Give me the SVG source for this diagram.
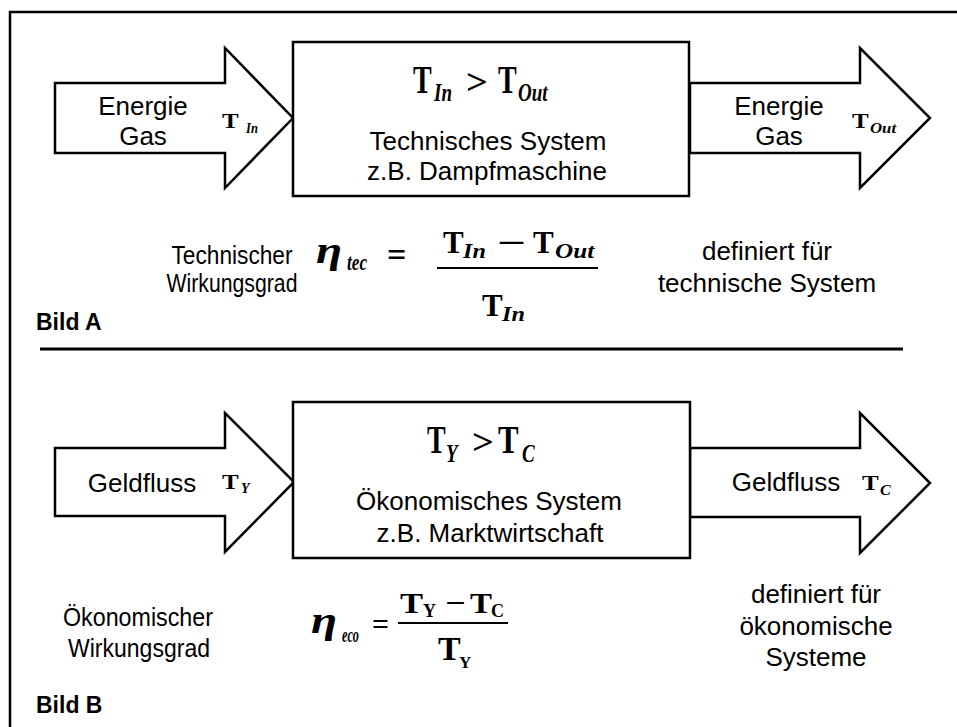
<svg xmlns="http://www.w3.org/2000/svg" width="957" height="727" viewBox="0 0 957 727">
<style>
.ln{fill:none;stroke:#000;stroke-width:2.5}
.sh{fill:#fff;stroke:#000;stroke-width:2.5;stroke-linejoin:miter}
.t{font-family:"Liberation Sans",Arial,sans-serif;font-size:26px;fill:#000;text-anchor:middle}
.bold{font-family:"Liberation Sans",Arial,sans-serif;font-size:23px;font-weight:bold;fill:#000}
.m{font-family:"Liberation Serif","Times New Roman",serif;font-weight:bold;fill:#000}
.mi{font-family:"Liberation Serif","Times New Roman",serif;font-weight:bold;font-style:italic;fill:#000}
</style>
<rect width="957" height="727" fill="#fff"/>
<rect class="ln" x="10" y="12" width="1000" height="1000"/>
<line x1="40" y1="349" x2="903" y2="349" stroke="#000" stroke-width="3"/>

<g id="connectors">
  <g id="arrow-a-in">
    <polygon class="sh" points="55,83 225,83 225,48 293,118 225,188 225,153 55,153"/>
    <text class="t" x="143" y="115">Energie</text>
    <text class="t" x="143" y="145">Gas</text>
    <text class="m" font-size="20" transform="translate(222,128) scale(1.25,1)">T</text>
    <text class="mi" font-size="14" transform="translate(246,133) scale(0.9,1)">In</text>
  </g>
  <g id="arrow-a-out">
    <polygon class="sh" points="690,83 860,83 860,48 930,118 860,188 860,153 690,153"/>
    <text class="t" x="779" y="115">Energie</text>
    <text class="t" x="779" y="145">Gas</text>
    <text class="m" font-size="20" transform="translate(852,128) scale(1.25,1)">T</text>
    <text class="mi" font-size="14" transform="translate(870,133) scale(1.2,1)">Out</text>
  </g>
  <g id="arrow-b-in">
    <polygon class="sh" points="55,448 225,448 225,413 294,482 225,552 225,516 55,516"/>
    <text class="t" x="142" y="492">Geldfluss</text>
    <text class="m" font-size="20" transform="translate(222,489) scale(1.25,1)">T</text>
    <text class="mi" font-size="14" x="241" y="493">Y</text>
  </g>
  <g id="arrow-b-out">
    <polygon class="sh" points="690,448 860,448 860,413 930,483 860,553 860,517 690,517"/>
    <text class="t" x="786" y="491">Geldfluss</text>
    <text class="m" font-size="20" transform="translate(862,490) scale(1.25,1)">T</text>
    <text class="mi" font-size="14" transform="translate(880,495) scale(1.15,1)">C</text>
  </g>
</g>

<g id="system-a">
  <rect class="sh" x="293" y="42" width="396" height="154"/>
  <text class="m" font-size="28" transform="translate(413,93) scale(1,1.4)">T</text>
  <text class="mi" font-size="19" transform="translate(434,101) scale(1,1.35)">In</text>
  <text class="m" font-size="32" transform="translate(466,94) scale(1.2,1.1)">&gt;</text>
  <text class="m" font-size="28" transform="translate(498,93) scale(1,1.4)">T</text>
  <text class="mi" font-size="19" transform="translate(518,101) scale(1,1.35)">Out</text>
  <text class="t" x="488" y="150">Technisches System</text>
  <text class="t" x="487" y="180">z.B. Dampfmaschine</text>
</g>

<g id="system-b">
  <rect class="sh" x="293" y="402" width="397" height="156"/>
  <text class="m" font-size="28" transform="translate(427,453) scale(1,1.4)">T</text>
  <text class="mi" font-size="19" transform="translate(446,462) scale(1,1.35)">Y</text>
  <text class="m" font-size="32" transform="translate(472,454) scale(1.2,1.1)">&gt;</text>
  <text class="m" font-size="28" transform="translate(498,453) scale(1.1,1.4)">T</text>
  <text class="mi" font-size="19" transform="translate(522,462) scale(1,1.35)">C</text>
  <text class="t" x="489" y="510">Ökonomisches System</text>
  <text class="t" x="490" y="542">z.B. Marktwirtschaft</text>
</g>

<g id="formula-a">
  <text class="t" font-size="27" x="232" y="264" textLength="121" lengthAdjust="spacingAndGlyphs">Technischer</text>
  <text class="t" font-size="27" x="232" y="292" textLength="131" lengthAdjust="spacingAndGlyphs">Wirkungsgrad</text>
  <text class="mi" font-size="38" transform="translate(316,263) scale(1.25,1)">η</text>
  <text class="mi" font-size="23" x="347" y="270" textLength="20" lengthAdjust="spacingAndGlyphs">tec</text>
  <text class="m" font-size="34" x="387" y="266">=</text>
  <text class="m" font-size="31" x="443" y="253">T</text>
  <text class="mi" font-size="21" transform="translate(463,258) scale(1.15,1)">In</text>
  <text class="m" font-size="31" transform="translate(497,253) scale(1.65,1)">−</text>
  <text class="m" font-size="31" x="533" y="253">T</text>
  <text class="mi" font-size="21" transform="translate(555,258) scale(1.2,1)">Out</text>
  <line x1="437" y1="268" x2="598" y2="268" stroke="#000" stroke-width="2"/>
  <text class="m" font-size="31" x="482" y="316">T</text>
  <text class="mi" font-size="21" transform="translate(502,321) scale(1.15,1)">In</text>
  <text class="t" x="767" y="260">definiert für</text>
  <text class="t" x="767" y="292">technische System</text>
  <text class="bold" x="36" y="330">Bild A</text>
</g>

<g id="formula-b">
  <text class="t" x="138" y="626" textLength="150" lengthAdjust="spacingAndGlyphs">Ökonomischer</text>
  <text class="t" x="139" y="657" textLength="142" lengthAdjust="spacingAndGlyphs">Wirkungsgrad</text>
  <text class="mi" font-size="38" transform="translate(311,633) scale(1.25,1)">η</text>
  <text class="mi" font-size="22" x="342" y="642" textLength="17" lengthAdjust="spacingAndGlyphs">eco</text>
  <text class="m" font-size="30" x="372" y="634">=</text>
  <text class="m" font-size="30" transform="translate(400,613) scale(1.15,1)">T</text>
  <text class="m" font-size="18" x="423" y="617">Y</text>
  <text class="m" font-size="30" transform="translate(445,613) scale(1.2,1)">−</text>
  <text class="m" font-size="30" transform="translate(470,613) scale(1.1,1)">T</text>
  <text class="m" font-size="18" x="491" y="617">C</text>
  <line x1="398" y1="623" x2="508" y2="623" stroke="#000" stroke-width="2"/>
  <text class="m" font-size="34" x="438" y="660">T</text>
  <text class="m" font-size="17" x="459" y="668">Y</text>
  <text class="t" x="816" y="603">definiert für</text>
  <text class="t" x="816" y="635">ökonomische</text>
  <text class="t" x="816" y="666">Systeme</text>
  <text class="bold" x="36" y="713">Bild B</text>
</g>
</svg>
